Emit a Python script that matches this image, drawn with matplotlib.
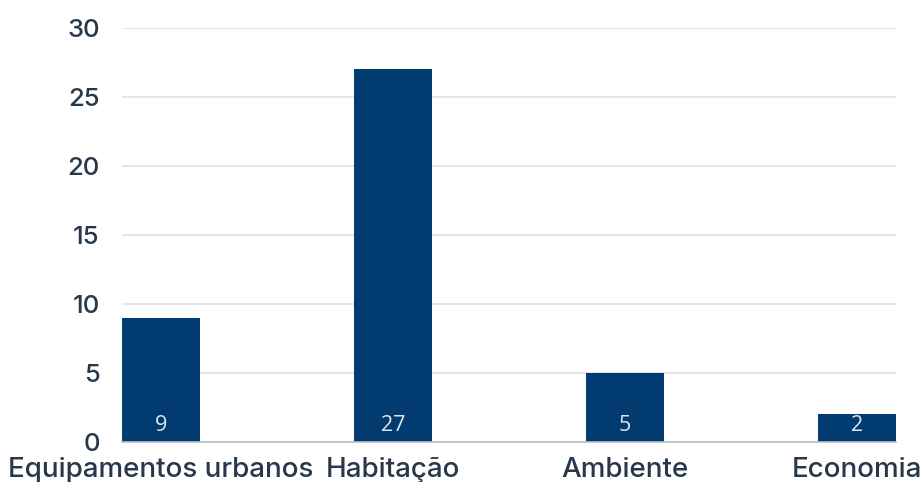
import matplotlib.pyplot as plt

categories = ['Equipamentos urbanos', 'Habitação', 'Ambiente', 'Economia']
values = [9, 27, 5, 2]
yticks = [0, 5, 10, 15, 20, 25, 30]

bar_color = '#023b6f'
text_color = '#27384b'

plt.rcParams['font.family'] = ['Inter', 'DejaVu Sans']

fig = plt.figure(figsize=(9.22, 4.82), dpi=100)
ax = fig.add_axes([0.1323, 0.083, 0.8395, 0.859])

x = range(len(categories))
bars = ax.bar(x, values, width=0.336, color=bar_color, zorder=3)

for xi, v in zip(x, values):
    ax.annotate(str(v), (xi, 0), xytext=(0, 4), textcoords='offset points',
                ha='center', va='bottom', color='#dfe6ee', fontsize=15.5,
                family=['Open Sans', 'DejaVu Sans'], zorder=4)

ax.set_xlim(-0.168, len(categories) - 1 + 0.168)
ax.set_ylim(0, 30)
ax.set_yticks(yticks)
ax.set_xticks(list(x))
ax.set_xticklabels(categories)

ax.grid(axis='y', color='#e3e6ea', linewidth=1.5, zorder=0)
for s in ['top', 'right', 'left']:
    ax.spines[s].set_visible(False)
ax.spines['bottom'].set_color('#b9c0c8')
ax.spines['bottom'].set_linewidth(1.2)
ax.spines['bottom'].set_zorder(5)

ax.tick_params(axis='y', length=0, pad=16, labelsize=18.5, labelcolor=text_color)
ax.tick_params(axis='x', length=0, pad=11, labelsize=20, labelcolor=text_color)
for lbl in ax.get_yticklabels() + ax.get_xticklabels():
    lbl.set_fontweight('medium')

fig.savefig('out.png', dpi=100)
